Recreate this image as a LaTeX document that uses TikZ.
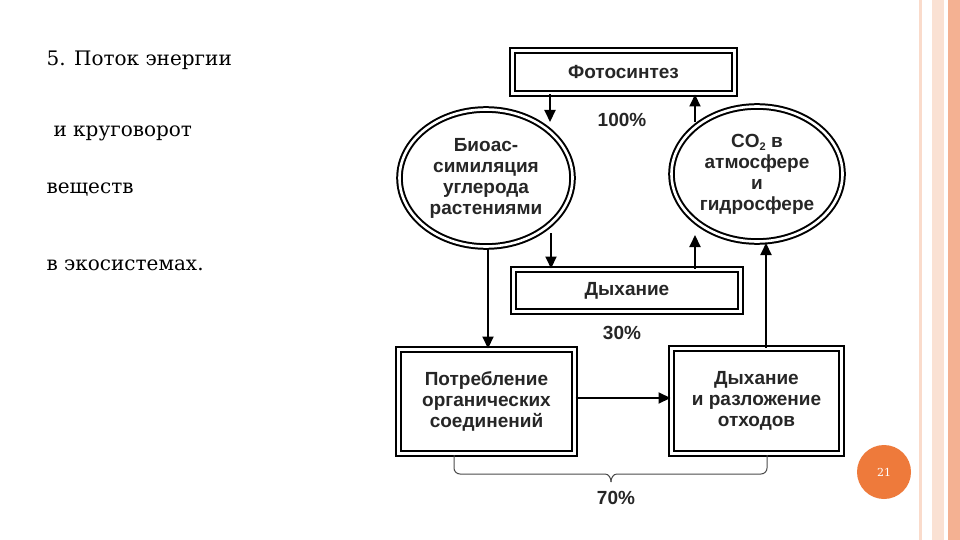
\documentclass[tikz,border=0pt]{standalone}
\usepackage{fontspec}
\setmainfont{DejaVu Serif}
\newfontfamily\diag{Liberation Sans}
\usetikzlibrary{arrows.meta,shapes.geometric}
\definecolor{peach}{HTML}{F6C3A8}
\definecolor{salmon}{HTML}{F4B192}
\definecolor{orng}{HTML}{EE7A3B}
\begin{document}
\begin{tikzpicture}[x=1pt,y=-1pt,
  dbl/.style={draw, double, double distance=2.6pt, line width=2pt},
  lbl/.style={font=\diag\bfseries\fontsize{19}{21}\selectfont, align=center, text=black!85},
  arr/.style={line width=2pt,-{Triangle[length=12pt,width=11pt]}},
  side/.style={font=\fontsize{20}{23}\selectfont, anchor=west}]
\fill[white] (0,0) rectangle (960,540);
\useasboundingbox (0,0) rectangle (960,540);
% right decoration
\fill[peach!60] (919,0) rectangle (922,540);
\fill[peach!50] (932,0) rectangle (944,540);
\fill[salmon] (948,0) rectangle (960,540);
% side text
\node[side] (t1) at (43,60) {5. Поток энергии};
\node[side] (t2) at (50,133) {и круговорот};
\node[side] (t3) at (43,190) {веществ};
\node[side] (t4) at (43,265) {в экосистемах.};
% nodes
\node[dbl, lbl, minimum width=222pt, minimum height=43pt] (foto) at (623.5,72) {Фотосинтез};
\node[dbl, lbl, ellipse, minimum width=173pt, minimum height=137pt, inner sep=0pt] (bio) at (486,178) {Биоас-\\симиляция\\углерода\\растениями};
\node[dbl, lbl, ellipse, minimum width=171pt, minimum height=135pt, inner sep=0pt] (co2) at (757,174) {CO\raisebox{-0.35ex}{\fontsize{11}{11}\selectfont 2} в\\атмосфере\\и\\гидросфере};
\node[dbl, lbl, minimum width=227pt, minimum height=42pt] (dyh) at (627,290.5) {Дыхание};
\node[dbl, lbl, minimum width=176pt, minimum height=104pt] (potr) at (486.5,401.5) {Потребление\\органических\\соединений};
\node[dbl, lbl, minimum width=170pt, minimum height=105pt] (razl) at (756.5,401) {Дыхание\\и разложение\\отходов};
\node[lbl] (p100) at (622,120) {100\%};
\node[lbl] (p30) at (622,333) {30\%};
\node[lbl] (p70) at (616,498) {70\%};
% arrows
\coordinate (a1) at (550,122);
\draw[arr] (foto.south -| a1) -- (a1);
\coordinate (a2) at (695,122);
\draw[arr] (a2) -- (foto.south -| a2);
\coordinate (a3) at (551,233);
\draw[arr] (a3) -- (dyh.north -| a3);
\coordinate (a4) at (695,235);
\draw[arr] (dyh.north -| a4) -- (a4);
\coordinate (a5) at (488,248);
\draw[arr] (a5) -- (potr.north -| a5);
\draw[arr] (potr.east |- 0,398) -- (razl.west |- 0,398);
\coordinate (a6) at (766,243);
\draw[arr] (razl.north -| a6) -- (a6);
% brace
\coordinate (b1) at (454,455);
\coordinate (b2) at (767,455);
\coordinate (bt) at (611,482);
\draw[line width=1pt, black!70] (b1) -- (454,468) to[out=-90,in=180] (460,474) -- (605,474) to[out=0,in=90] (bt);
\draw[line width=1pt, black!70] (b2) -- (767,468) to[out=-90,in=0] (761,474) -- (617,474) to[out=180,in=90] (bt);
% page number
\node[circle, fill=orng, minimum size=54pt, text=white, font=\fontsize{11}{12}\selectfont] (pg) at (884,472) {21};
\end{tikzpicture}
\end{document}
